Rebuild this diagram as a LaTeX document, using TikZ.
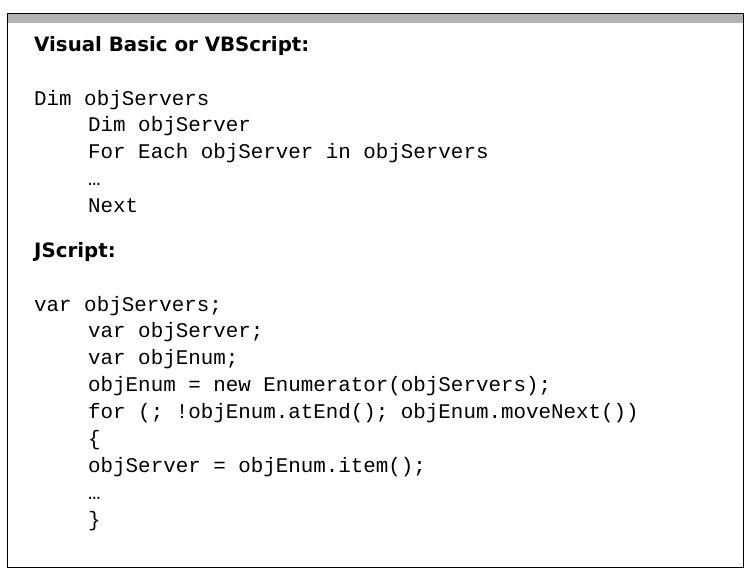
\documentclass[tikz,border=0pt]{standalone}
\usepackage{fontspec}
\setmonofont{Liberation Mono}
\newfontfamily\headfont{DejaVu Sans}
\usetikzlibrary{positioning}

\begin{document}
\begin{tikzpicture}[x=1pt,y=-1pt,node distance=6.5pt,
  heading/.style={font=\headfont\bfseries\fontsize{19.8}{24}\selectfont,inner sep=0pt,anchor=base west},
  code/.style={font=\ttfamily\fontsize{20.85}{26}\selectfont,inner sep=0pt,text height=15pt,text depth=5pt,anchor=north west}]
	\useasboundingbox (0,0) rectangle (750,581);
	\fill[black!30] (7.5,13.5) rectangle (743.5,22.5);
	\draw[line width=1.2pt] (7.5,13.5) rectangle (743.5,567.5);

	% Visual Basic block
	\node[heading] (vbhead) at (34,51) {Visual Basic or VBScript:};
	\node[code,anchor=base west] (vb1) at (34,105) {Dim objServers};
	\node[code,below right=6.5pt and 54pt of vb1.south west] (vb2) {Dim objServer};
	\node[code,below=of vb2.south west,anchor=north west] (vb3) {For Each objServer in objServers};
	\node[code,below=of vb3.south west,anchor=north west] (vb4) {…};
	\node[code,below=of vb4.south west,anchor=north west] (vb5) {Next};

	% JScript block
	\node[heading] (jshead) at (34,257) {JScript:};
	\node[code,anchor=base west] (js1) at (34,311) {var objServers;};
	\node[code,below right=6.5pt and 54pt of js1.south west] (js2) {var objServer;};
	\node[code,below=of js2.south west,anchor=north west] (js3) {var objEnum;};
	\node[code,below=of js3.south west,anchor=north west] (js4) {objEnum = new Enumerator(objServers);};
	\node[code,below=of js4.south west,anchor=north west] (js5) {for (; !objEnum.atEnd(); objEnum.moveNext())};
	\node[code,below=of js5.south west,anchor=north west] (js6) {\{};
	\node[code,below=of js6.south west,anchor=north west] (js7) {objServer = objEnum.item();};
	\node[code,below=of js7.south west,anchor=north west] (js8) {…};
	\node[code,below=of js8.south west,anchor=north west] (js9) {\}};
\end{tikzpicture}
\end{document}
